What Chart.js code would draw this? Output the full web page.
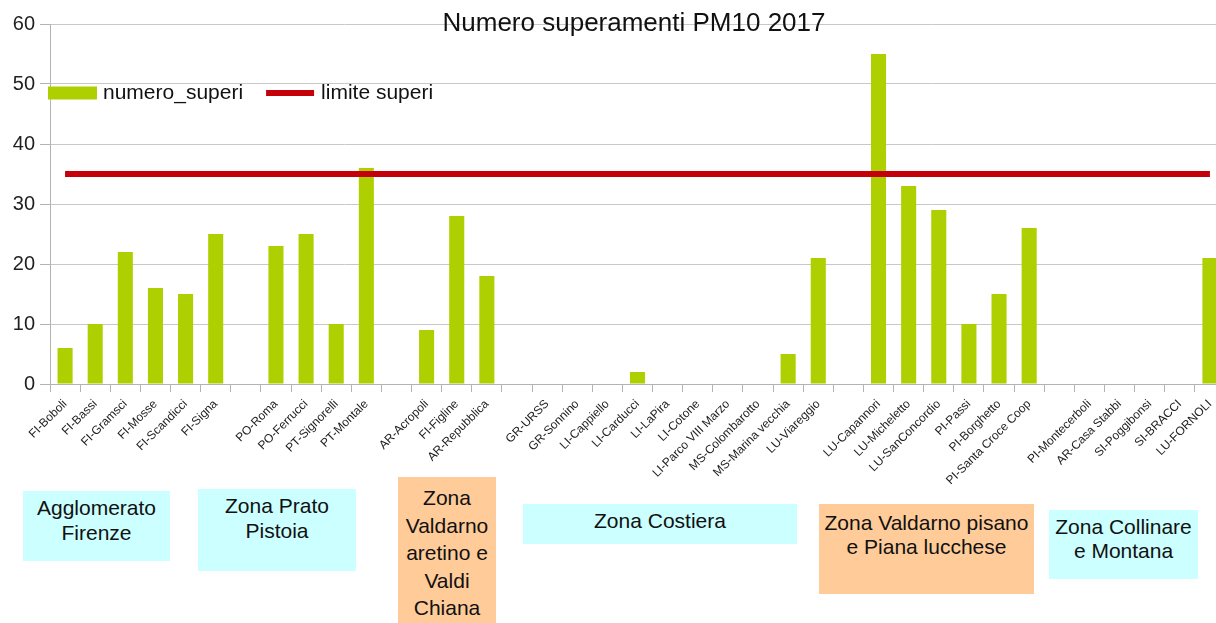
<!DOCTYPE html>
<html lang="it">
<head>
<meta charset="utf-8">
<title>Numero superamenti PM10 2017</title>
<script src="https://cdn.jsdelivr.net/npm/chart.js@4.4.1/dist/chart.umd.min.js"></script>
<style>
  body { margin: 0; width: 1216px; height: 623px; overflow: hidden; position: relative; background: #fff; font-family: "Liberation Sans", Arial, sans-serif; }
  #box { position: absolute; left: 0; top: 0; width: 1240px; height: 623px; }
  .zona { position: absolute; box-sizing: border-box; text-align: center; font-size: 21px; color: #111; }
  .azzurro { background: #ccffff; }
  .arancio { background: #ffcc99; }
</style>
</head>
<body>
<div id="box"><canvas id="chart"></canvas></div>

<!-- riquadri delle zone sotto le stazioni -->
<div class="zona azzurro" style="left:23px;top:491px;width:147px;height:70px;padding-top:4px;line-height:25px">Agglomerato<br>Firenze</div>
<div class="zona azzurro" style="left:198px;top:489px;width:158px;height:82px;padding-top:4px;line-height:25px">Zona Prato<br>Pistoia</div>
<div class="zona arancio" style="left:398px;top:477px;width:98px;height:150px;padding-top:7px;line-height:27.5px">Zona<br>Valdarno<br>aretino e<br>Valdi<br>Chiana</div>
<div class="zona azzurro" style="left:523px;top:504px;width:274px;height:40px;padding-top:4px;line-height:25px">Zona Costiera</div>
<div class="zona arancio" style="left:819px;top:504px;width:215px;height:90px;padding-top:7px;line-height:24px">Zona Valdarno pisano<br>e Piana lucchese</div>
<div class="zona azzurro" style="left:1049px;top:510px;width:149px;height:69px;padding-top:5px;line-height:24px">Zona Collinare<br>e Montana</div>

<script>
// stazioni (le stringhe vuote separano le zone)
const stazioni = [
  'FI-Boboli', 'FI-Bassi', 'FI-Gramsci', 'FI-Mosse', 'FI-Scandicci', 'FI-Signa', '',
  'PO-Roma', 'PO-Ferrucci', 'PT-Signorelli', 'PT-Montale', '',
  'AR-Acropoli', 'FI-Figline', 'AR-Repubblica', '',
  'GR-URSS', 'GR-Sonnino', 'LI-Cappiello', 'LI-Carducci', 'LI-LaPira', 'LI-Cotone',
  'LI-Parco VIII Marzo', 'MS-Colombarotto', 'MS-Marina vecchia', 'LU-Viareggio', '',
  'LU-Capannori', 'LU-Micheletto', 'LU-SanConcordio', 'PI-Passi', 'PI-Borghetto', 'PI-Santa Croce Coop', '',
  'PI-Montecerboli', 'AR-Casa Stabbi', 'SI-Poggibonsi', 'SI-BRACCI', 'LU-FORNOLI'
];

// numero di superamenti per stazione
const numeroSuperi = [
  6, 10, 22, 16, 15, 25, null,
  23, 25, 10, 36, null,
  9, 28, 18, null,
  0, 0, 0, 2, 0, 0, 0, 0, 5, 21, null,
  55, 33, 29, 10, 15, 26, null,
  0, 0, 0, 0, 21
];

// limite di legge: 35 superamenti l'anno
const limiteSuperi = 35;

const yTicks = [0, 10, 20, 30, 40, 50, 60];

const FONT = '"Liberation Sans", Arial, sans-serif';

// titolo e legenda disegnati dentro l'area del grafico
const decorazioni = {
  id: 'decorazioni',
  afterDraw(chart) {
    const ctx = chart.ctx;
    ctx.save();
    ctx.fillStyle = '#111';
    ctx.font = '26px ' + FONT;
    ctx.textAlign = 'center';
    ctx.textBaseline = 'alphabetic';
    ctx.fillText('Numero superamenti PM10 2017', 634, 31);

    ctx.font = '21px ' + FONT;
    ctx.textAlign = 'left';
    ctx.textBaseline = 'middle';
    let x = 48;
    const y = 93;
    chart.data.datasets.forEach(ds => {
      if (ds.type === 'line') {
        ctx.fillStyle = ds.borderColor;
        ctx.fillRect(x, y - 3, 48, 6);
      } else {
        ctx.fillStyle = ds.backgroundColor;
        ctx.fillRect(x, y - 6.5, 49, 13);
      }
      ctx.fillStyle = '#111';
      ctx.fillText(ds.label, x + 55, y);
      x += 55 + ctx.measureText(ds.label).width + 23;
    });
    ctx.restore();
  }
};

function renderChart() {
  const ctx = document.querySelector('#chart').getContext('2d');
  new Chart(ctx, {
    data: {
      labels: stazioni,
      datasets: [
        {
          type: 'bar',
          label: 'numero_superi',
          data: numeroSuperi,
          backgroundColor: '#aecf00',
          barPercentage: 0.5,
          categoryPercentage: 1,
          order: 1
        },
        {
          type: 'line',
          label: 'limite superi',
          data: stazioni.map(() => limiteSuperi),
          borderColor: '#c5000b',
          borderWidth: 6,
          pointRadius: 0,
          borderCapStyle: 'butt',
          order: 0
        }
      ]
    },
    options: {
      responsive: true,
      maintainAspectRatio: false,
      animation: false,
      layout: { padding: { top: 24, right: 15, left: 0, bottom: 0 } },
      plugins: {
        legend: { display: false },
        title: { display: false },
        tooltip: { enabled: false }
      },
      scales: {
        x: {
          offset: true,
          afterFit: s => { s.height = 239; },
          grid: { display: true, offset: true, drawOnChartArea: false, drawTicks: true, tickLength: 8, color: '#b3b3b3' },
          border: { display: true, color: '#b3b3b3' },
          ticks: {
            autoSkip: false,
            maxRotation: 45,
            minRotation: 45,
            padding: 5,
            color: '#222',
            font: { family: FONT, size: 12 }
          }
        },
        y: {
          min: 0,
          max: 60,
          afterFit: s => { s.width = 50; },
          afterBuildTicks: s => { s.ticks = yTicks.map(v => ({ value: v })); },
          grid: { color: '#c8c8c8', tickLength: 10, tickColor: '#b3b3b3' },
          border: { display: true, color: '#b3b3b3' },
          ticks: {
            padding: 5,
            color: '#222',
            font: { family: FONT, size: 20 }
          }
        }
      }
    },
    plugins: [decorazioni]
  });
}
renderChart();
</script>
</body>
</html>
